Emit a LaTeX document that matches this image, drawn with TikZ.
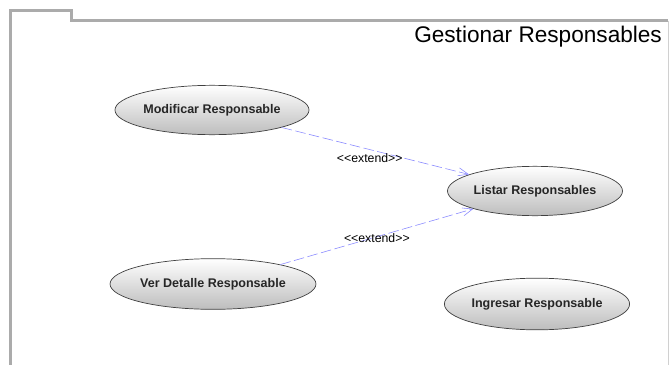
\documentclass[tikz,border=0pt]{standalone}
\usepackage{fontspec}
\setmainfont{Liberation Sans}
\usetikzlibrary{arrows.meta,positioning,shapes.geometric}
\definecolor{FrameGray}{HTML}{ABABAB}
\definecolor{EdgeGray}{HTML}{D0D0D0}
\definecolor{CaseLine}{HTML}{404040}
\definecolor{CaseShade}{HTML}{BDBDBD}
\definecolor{ExtBlue}{HTML}{8A8AFF}
\newcommand{\extendtag}{\textless\kern0pt\textless extend\textgreater\kern0pt\textgreater}
\tikzset{
  usecase/.style={ellipse, draw=CaseLine, line width=0.6pt,
                  top color=white, bottom color=CaseShade,
                  font=\fontsize{10.7}{12}\selectfont\bfseries, text=black!85,
                  minimum width=5.4cm, minimum height=1.48cm, inner sep=0pt},
  extarrow/.style={-{Straight Barb[length=3mm,width=2.4mm]}, ExtBlue,
                   line width=0.5pt, dash pattern=on 9pt off 3pt},
  extlabel/.style={font=\fontsize{10.5}{12}\selectfont, text=black},
  frameline/.style={draw=FrameGray, line width=2.4pt},
}

\begin{document}
\begin{tikzpicture}[x=0.03cm, y=-0.03cm]

  \useasboundingbox (0,0) rectangle (670,365);

  % ---- Package frame ----
  \draw[frameline] (10.5,366) -- (10.5,10.5) -- (71.5,10.5) -- (71.5,20.5) -- (668,20.5);
  \draw[draw=EdgeGray, line width=0.6pt] (668,20.5) -- (668,366);
  \node[font=\fontsize{19.3}{21}\selectfont, anchor=east] (title) at (666,37) {Gestionar Responsables};

  % ---- Use cases ----
  \node[usecase] (modif)   at (212,110) {Modificar Responsable};
  \node[usecase, minimum width=5.25cm] (listar)  at (535,191) {Listar Responsables};
  \node[usecase, minimum width=6.0cm, minimum height=1.52cm] (detalle) at (213,284) {Ver Detalle Responsable};
  \node[usecase, minimum width=5.55cm, minimum height=1.55cm] (ingresar) at (537,304) {Ingresar Responsable};

  % ---- Extend relations ----
  \draw[extarrow] (modif) -- node[extlabel, pos=0.47, below=0pt] {\extendtag} (listar);
  \draw[extarrow] (detalle) -- node[extlabel, pos=0.5, below=-6pt] {\extendtag} (listar);

\end{tikzpicture}
\end{document}
